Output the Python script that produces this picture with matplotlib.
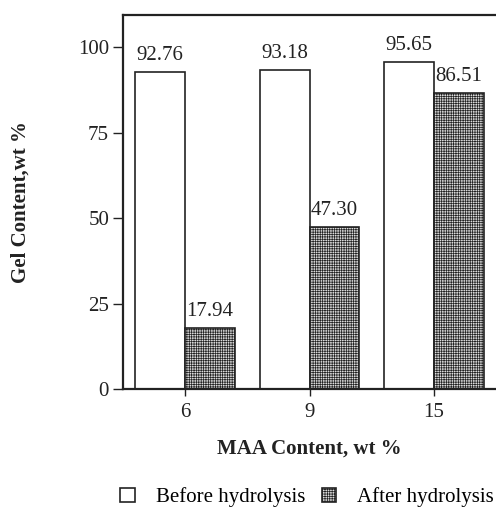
import matplotlib
matplotlib.use("Agg")
import matplotlib.pyplot as plt
import numpy as np

categories = ["6", "9", "15"]
before = [92.76, 93.18, 95.65]
after = [17.94, 47.30, 86.51]
yticks = [0, 25, 50, 75, 100]

plt.rcParams['font.family'] = ['Liberation Serif', 'DejaVu Serif']
plt.rcParams['hatch.color'] = '#bababa'
plt.rcParams['hatch.linewidth'] = 0.5

FS = 15
fig = plt.figure(figsize=(4.96, 5.12), dpi=100)
ax = fig.add_axes([0.248, 0.240, 0.752, 0.731])

x = np.arange(len(categories))
w = 0.4
b1 = ax.bar(x - w/2, before, w, color='white', edgecolor='#222222', linewidth=1.2,
            label='Before hydrolysis')
b2 = ax.bar(x + w/2, after, w, color='#dcdcdc', edgecolor='#222222', linewidth=1.2,
            hatch='+++++++', label='After hydrolysis')

for bars, vals in ((b1, before), (b2, after)):
    for r, v in zip(bars, vals):
        ax.annotate(f"{v:.2f}", (r.get_x() + r.get_width()/2, v), xytext=(0, 5),
                    textcoords='offset points', ha='center', va='bottom',
                    fontsize=FS, color='#222222')

ax.set_xlim(-0.5, 2.5)
ax.set_ylim(0, 109.4)
ax.set_xticks(x)
ax.set_xticklabels(categories, fontsize=FS)
ax.set_yticks(yticks)
ax.set_yticklabels([str(t) for t in yticks], fontsize=FS)
ax.tick_params(axis='y', direction='out', length=7, width=1, pad=3, colors='#222222')
ax.tick_params(axis='x', direction='out', length=5, width=1, pad=5, colors='#222222')
for s in ['left', 'top', 'bottom']:
    ax.spines[s].set_linewidth(1.6)
    ax.spines[s].set_color('#222222')
ax.spines['right'].set_visible(False)

ax.set_xlabel('MAA Content, wt %', fontsize=FS, fontweight='bold', labelpad=12, color='#222222')
ax.set_ylabel('Gel Content,wt %', fontsize=FS, fontweight='bold', labelpad=34, color='#222222')

fig.legend(handles=[b1, b2], loc='center', bbox_to_anchor=(0.619, 0.029), ncol=2,
           frameon=False, fontsize=FS, handlelength=0.7, handleheight=0.7,
           columnspacing=0.8, handletextpad=1.0, borderaxespad=0, borderpad=0)

fig.savefig('out.png', dpi=100)
